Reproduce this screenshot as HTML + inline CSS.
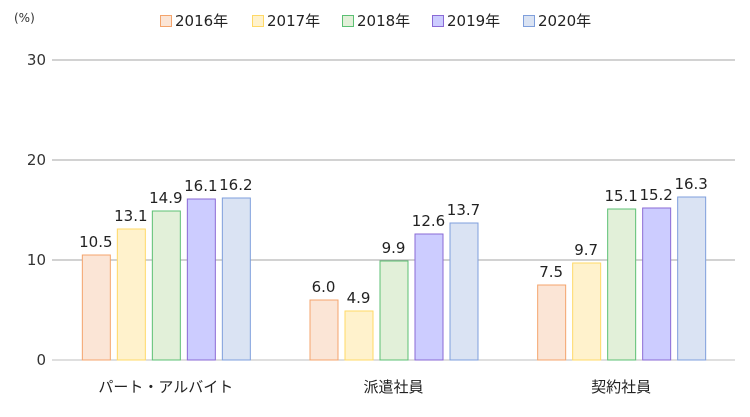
<!DOCTYPE html>
<html><head><meta charset="utf-8"><style>
body{margin:0;background:#fff;font-family:"DejaVu Sans","Noto Sans CJK JP",sans-serif;}
</style></head><body>
<svg id="chart" width="750" height="413" viewBox="0 0 750 413" xmlns="http://www.w3.org/2000/svg" font-family="DejaVu Sans, Noto Sans CJK JP, sans-serif">
<text x="14" y="22" font-size="12" fill="#333">(%)</text>
<g id="grid"></g><g id="bars"></g><g id="legend"></g>
</svg>
<script>
const categories=["パート・アルバイト","派遣社員","契約社員"];
const years=["2016年","2017年","2018年","2019年","2020年"];
const s2016=[10.5,6.0,7.5];
const s2017=[13.1,4.9,9.7];
const s2018=[14.9,9.9,15.1];
const s2019=[16.1,12.6,15.2];
const s2020=[16.2,13.7,16.3];
const series=[s2016,s2017,s2018,s2019,s2020];
const yTicks=[0,10,20,30];
const fills=["#fbe5d6","#fff2cc","#e2f0d9","#ccccff","#dae3f3"];
const strokes=["#f4a46c","#ffd966","#5cc074","#8a6ad6","#7f9fdc"];
const NS="http://www.w3.org/2000/svg";
const x0=52,x1=735,yBase=360,yTop=60,yMax=30;
const y=v=>yBase-(v/yMax)*(yBase-yTop);
const groupW=(x1-x0)/categories.length;
const gc=i=>x0+groupW*(i+0.5);
const bw=28,step=35;
function mk(t,a,p){const e=document.createElementNS(NS,t);for(const k in a)e.setAttribute(k,a[k]);p.appendChild(e);return e;}
const grid=document.getElementById('grid');
yTicks.forEach(t=>{
 const l=mk('line',{x1:x0,x2:x1,y1:y(t),y2:y(t),stroke:t===0?'#bfbfbf':'#a6a6a6','stroke-width':1},grid);
 
 
 const tx=mk('text',{x:46,y:y(t)+5,'font-size':15,fill:'#333','text-anchor':'end'},grid);
 tx.textContent=t;
 
 
});
const bars=document.getElementById('bars');
categories.forEach((c,i)=>{
 series.forEach((s,j)=>{
  const cx=gc(i)+(j-2)*step;
  const r=mk('rect',{x:cx-bw/2+0.5,y:y(s[i]),width:bw,height:yBase-y(s[i]),fill:fills[j],stroke:strokes[j],'stroke-width':1},bars);
  
  
  const lb=mk('text',{x:cx,y:y(s[i])-8,'font-size':15,fill:'#222','text-anchor':'middle'},bars);
  lb.textContent=s[i].toFixed(1);
  
  
 });
 const ct=mk('text',{x:gc(i),y:392,'font-size':15,fill:'#222','text-anchor':'middle'},bars);
 ct.textContent=c;
 
 
});
const lg=document.getElementById('legend');
const lx=[160,252,342,432,523];
years.forEach((yr,j)=>{
 const g=mk('g',{},lg);
 
 
 mk('rect',{x:lx[j]+0.5,y:15.5,width:11,height:11,fill:fills[j],stroke:strokes[j]},g);
 const t=mk('text',{x:lx[j]+15,y:26,'font-size':15,fill:'#222'},g);
 t.textContent=yr;
});
</script>
</body></html>
